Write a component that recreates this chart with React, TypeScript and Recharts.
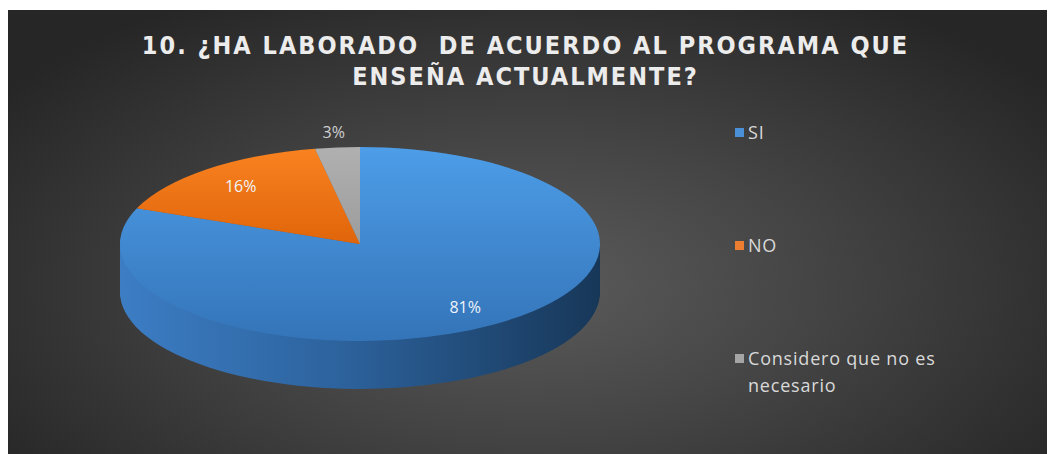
import { PieChart, Pie, Cell, Legend } from 'recharts';

const categories = ['SI', 'NO', 'Considero que no es necesario'];
const percentages = [81, 16, 3];
const titleLines = ['10. ¿HA LABORADO\u00a0 DE ACUERDO AL PROGRAMA QUE', 'ENSEÑA ACTUALMENTE?'];

const topFills = ['url(#gBlueTop)', 'url(#gOrangeTop)', 'url(#gGrayTop)'];
const sideFills = ['url(#gBlueSide)', '#a64f0c', '#707070'];
const legendColors = ['#4a90d9', '#ed7d31', '#a5a5a5'];

const W = 1047;
const H = 444;
const CX = 352;
const CY = 234;
const R = 240;
const TILT = 0.404; // vertical squash of the disc
const DEPTH = 48;
const depthSteps = Array.from({ length: DEPTH / 2 }, (_, i) => DEPTH - i * 2);

const data = categories.map((name, i) => ({ name, value: percentages[i] }));

const RAD = Math.PI / 180;

function renderLabel(props: any) {
  const { cx, cy, midAngle, outerRadius, percent } = props;
  const small = percent < 0.05;
  const r = small ? outerRadius * 1.16 : outerRadius * 0.78;
  const x = cx + r * Math.cos(-midAngle * RAD);
  const y = cy + r * Math.sin(-midAngle * RAD) * TILT;
  return (
    <text
      x={x}
      y={y}
      textAnchor="middle"
      dominantBaseline="central"
      fill={small ? '#d0d0d0' : '#eef3fa'}
      fontSize={16}
      fontFamily="'Open Sans', sans-serif"
    >
      {`${Math.round(percent * 100)}%`}
    </text>
  );
}

function LegendContent({ payload }: any) {
  const items = (payload || [])
    .filter((p: any) => p.type !== 'none')
    .sort((a: any, b: any) => categories.indexOf(a.value) - categories.indexOf(b.value));
  return (
    <div style={{ fontFamily: "'Open Sans', sans-serif" }}>
      {items.map((p: any) => (
        <div key={p.value} style={{ display: 'flex', alignItems: 'flex-start', height: 113 }}>
          <span
            style={{
              width: 9,
              height: 9,
              marginTop: 9,
              marginRight: 4,
              background: legendColors[categories.indexOf(p.value)],
              flex: 'none',
            }}
          />
          <span style={{ color: '#d9d9d9', fontSize: 18, letterSpacing: 0.8, lineHeight: '27px', width: 210 }}>
            {p.value}
          </span>
        </div>
      ))}
    </div>
  );
}

export default function App() {
  return (
    <div
      style={{
        position: 'relative',
        marginTop: 2,
        width: W,
        height: H,
        background: 'radial-gradient(ellipse 62% 75% at 50% 62%, #5b5b5b 0%, #444 45%, #262626 100%)',
      }}
    >
      <style>{`
        body { overflow: hidden; }
        .pie3d .recharts-pie-sector {
          transform-box: view-box;
          transform-origin: ${CX}px ${CY}px;
          transform: scaleY(${TILT});
        }
      `}</style>
      <svg width={0} height={0} style={{ position: 'absolute' }}>
        <defs>
          <linearGradient id="gBlueTop" x1="0" y1="0" x2="0" y2="1">
            <stop offset="0%" stopColor="#4d9de8" />
            <stop offset="100%" stopColor="#3474b8" />
          </linearGradient>
          <linearGradient id="gOrangeTop" x1="0" y1="0" x2="0" y2="1">
            <stop offset="0%" stopColor="#f98220" />
            <stop offset="100%" stopColor="#e0650a" />
          </linearGradient>
          <linearGradient id="gGrayTop" x1="0" y1="0" x2="0" y2="1">
            <stop offset="0%" stopColor="#b0b0b0" />
            <stop offset="100%" stopColor="#9c9c9c" />
          </linearGradient>
          <linearGradient id="gBlueSide" x1="0" y1="0" x2="1" y2="0">
            <stop offset="0%" stopColor="#3c7dc4" />
            <stop offset="45%" stopColor="#2d639e" />
            <stop offset="100%" stopColor="#173758" />
          </linearGradient>
        </defs>
      </svg>
      <div
        style={{
          position: 'absolute',
          left: 0,
          top: 20,
          width: W,
          textAlign: 'center',
          color: '#ececec',
          fontFamily: "'Liberation Sans Narrow', 'DejaVu Sans Condensed', sans-serif",
          fontWeight: 'bold',
          fontSize: 25,
          letterSpacing: 2,
          lineHeight: '31px',
        }}
      >
        {titleLines.map((t) => (
          <div key={t} style={{ marginLeft: -12 }}>
            {t}
          </div>
        ))}
      </div>
      <div className="pie3d" style={{ position: 'absolute', left: 0, top: 0 }}>
        <PieChart width={W} height={H} margin={{ top: 0, right: 0, bottom: 0, left: 0 }}>
          {depthSteps.map((d) => (
            <Pie
              key={d}
              data={data}
              dataKey="value"
              nameKey="name"
              cx={CX}
              cy={CY + d / TILT}
              outerRadius={R}
              startAngle={90}
              endAngle={-270}
              stroke="none"
              legendType="none"
              isAnimationActive={false}
            >
              {data.map((e, i) => (
                <Cell key={e.name} fill={sideFills[i]} />
              ))}
            </Pie>
          ))}
          <Pie
            data={data}
            dataKey="value"
            nameKey="name"
            cx={CX}
            cy={CY}
            outerRadius={R}
            startAngle={90}
            endAngle={-270}
            stroke="none"
            legendType="square"
            label={renderLabel}
            labelLine={false}
            isAnimationActive={false}
          >
            {data.map((e, i) => (
              <Cell key={e.name} fill={topFills[i]} />
            ))}
          </Pie>
          <Legend
            layout="vertical"
            align="right"
            verticalAlign="top"
            content={<LegendContent />}
            wrapperStyle={{ position: 'absolute', left: 727, top: 109, width: 260 }}
          />
        </PieChart>
      </div>
    </div>
  );
}
